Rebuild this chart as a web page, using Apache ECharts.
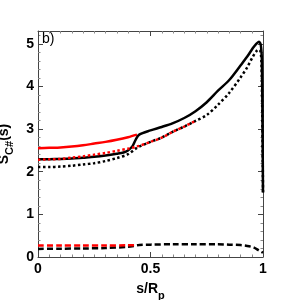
<!DOCTYPE html>
<html><head><meta charset="utf-8">
<script src="https://cdn.jsdelivr.net/npm/echarts@6/dist/echarts.min.js"></script>
<style>html,body{margin:0;padding:0;background:#fff}#c{width:291px;height:300px}</style>
</head><body><div id="c"></div>
<script>
var sBlackSolid = [0,0.05,0.1,0.15,0.2,0.25,0.3,0.35,0.38,0.4,0.42,0.435,0.45,0.5,0.55,0.6,0.65,0.7,0.75,0.8,0.85,0.9,0.93,0.955,0.97,0.982,0.99,0.995,0.998,1.0];
var vBlackSolid = [2.29,2.295,2.30,2.31,2.33,2.35,2.38,2.42,2.45,2.50,2.60,2.76,2.87,2.97,3.05,3.14,3.26,3.42,3.63,3.90,4.15,4.49,4.70,4.90,5.00,5.05,4.98,4.6,3.0,1.52];
var sRedSolid = [0,0.05,0.1,0.15,0.2,0.25,0.3,0.35,0.4,0.44];
var vRedSolid = [2.55,2.56,2.57,2.59,2.62,2.66,2.70,2.75,2.81,2.87];
var sBlackDot = [0,0.05,0.1,0.15,0.2,0.25,0.3,0.35,0.4,0.44,0.5,0.55,0.6,0.65,0.7,0.75,0.8,0.85,0.9,0.93,0.955,0.975,0.985,0.993,1.0];
var vBlackDot = [2.11,2.11,2.12,2.14,2.17,2.20,2.25,2.32,2.41,2.56,2.70,2.80,2.94,3.06,3.19,3.33,3.57,3.85,4.21,4.45,4.70,4.85,4.86,4.6,1.5];
var sRedDot = [0,0.05,0.1,0.15,0.2,0.25,0.3,0.35,0.4,0.44,0.5,0.55,0.6,0.65,0.7];
var vRedDot = [2.28,2.29,2.30,2.33,2.36,2.40,2.44,2.49,2.54,2.59,2.70,2.80,2.94,3.06,3.19];
var sRedDash = [0,0.1,0.2,0.3,0.4,0.44];
var vRedDash = [0.27,0.27,0.27,0.27,0.275,0.28];
var sBlackDash = [0,0.1,0.2,0.3,0.4,0.45,0.5,0.6,0.7,0.8,0.85,0.9,0.93,0.96,0.98,1.0];
var vBlackDash = [0.19,0.195,0.20,0.21,0.24,0.28,0.29,0.30,0.30,0.30,0.29,0.28,0.26,0.22,0.16,0.10];
var xTicks = [0,0.5,1];
var yTicks = [0,1,2,3,4,5];

function pairs(s,v){return s.map(function(x,i){return [x,v[i]];});}
var axCol = '#444';
function mkX(show, pos){
  return {type:'value', min:0, max:1, interval:0.5, position:pos,
    axisLine:{show:true,onZero:false,lineStyle:{color:axCol,width:1}},
    axisTick:{show:true,inside:true,length:5,lineStyle:{color:axCol}},
    minorTick:{show:true,splitNumber:10,length:2.5,lineStyle:{color:'#888'}},
    splitLine:{show:false},
    axisLabel:{show:show,color:'#000',fontFamily:'Liberation Sans',fontWeight:'bold',fontSize:14,margin:5,
      formatter:function(v){return xTicks.indexOf(v)>=0?String(v):'';}},
    name: show?'{a|s/R}{b|p}':'', nameLocation:'middle', nameGap:21,
    nameTextStyle:{rich:{a:{fontFamily:'Liberation Sans',fontWeight:'bold',fontSize:14,color:'#000'},
      b:{fontFamily:'Liberation Sans',fontWeight:'bold',fontSize:11,color:'#000',padding:[12,0,0,0]}}}
  };
}
function mkY(show, pos){
  return {type:'value', min:0, max:5.3, interval:1, position:pos,
    axisLine:{show:true,onZero:false,lineStyle:{color:axCol,width:1}},
    axisTick:{show:true,inside:true,length:5,lineStyle:{color:axCol}},
    minorTick:{show:true,splitNumber:5,length:2.5,lineStyle:{color:'#888'}},
    splitLine:{show:false},
    axisLabel:{show:show,color:'#000',fontFamily:'Liberation Sans',fontWeight:'bold',fontSize:14,margin:4,
      formatter:function(v){return yTicks.indexOf(v)>=0?String(v):'';}},
    name: show?'{a|S}{b|C#}{a|(s)}':'', nameLocation:'middle', nameGap:22, nameRotate:90,
    nameTextStyle:{rich:{a:{fontFamily:'Liberation Sans',fontWeight:'bold',fontSize:14,color:'#000'},
      b:{fontFamily:'Liberation Sans',fontWeight:'bold',fontSize:11,color:'#000',padding:[12,0,0,0]}}}
  };
}
function ser(s,v,color,type,w,z){
  return {type:'line', data:pairs(s,v), showSymbol:false, symbol:'none', smooth:0.3, z:z,
    xAxisIndex:0, yAxisIndex:0, animation:false,
    lineStyle:{color:color,width:w,type:type,cap:'butt'}};
}
var chart = echarts.init(document.getElementById('c'), null, {renderer:'canvas'});
chart.setOption({
  animation:false,
  grid:{left:38, right:28, top:31, bottom:43, containLabel:false, outerBoundsMode:'none'},
  xAxis:[mkX(true,'bottom'), mkX(false,'top')],
  yAxis:[mkY(true,'left'), mkY(false,'right')],
  graphic:[{type:'text', left:42, top:32, style:{text:'b)', fontFamily:'Liberation Sans', fontSize:14, fill:'#000'}}],
  series:[
    ser(sRedSolid,vRedSolid,'#ff0000','solid',2.5,2),
    ser(sBlackSolid,vBlackSolid,'#000','solid',2.5,3),
    ser(sBlackDot,vBlackDot,'#000',[2.5,2.5],2.5,4),
    ser(sRedDot,vRedDot,'#ff0000',[2.5,2.5],2.5,5),
    ser(sBlackDash,vBlackDash,'#000',[6,3],2.5,6),
    ser(sRedDash,vRedDash,'#ff0000',[6,3],2.5,7)
  ]
});
</script></body></html>
